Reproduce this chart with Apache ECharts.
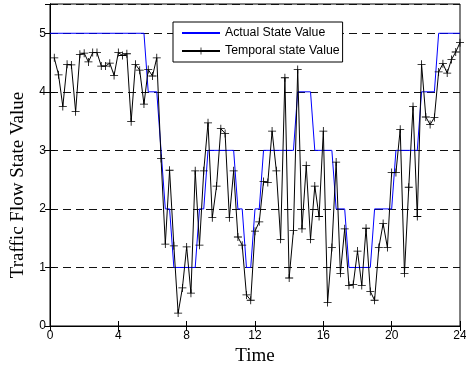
<!DOCTYPE html>
<html>
<head>
<meta charset="utf-8">
<script src="https://cdn.jsdelivr.net/npm/echarts@6/dist/echarts.min.js"></script>
<style>
html,body{margin:0;padding:0;background:#fff;}
#chart{width:466px;height:368px;}
</style>
</head>
<body>
<div id="chart"></div>
<script>
// Actual state value (step corners)
const actualTimes = [0,5.5,5.75,6.25,6.5,6.75,7.0,7.25,8.5,8.75,9.0,9.25,10.75,11.0,11.25,11.5,11.75,12.0,12.25,12.5,14.25,14.5,15.25,15.5,16.5,16.75,17.25,17.5,18.75,19.0,20.0,20.25,21.5,21.75,22.5,22.75,24];
const actualValues = [5,5,4,4,3,2,2,1,1,2,2,3,3,2,2,1,1,2,2,3,3,4,4,3,3,2,2,1,1,2,2,3,3,4,4,5,5];

// Temporal state value samples
const temporalTimes = [
  0.25,0.5,0.75,1.0,1.25,1.5,1.75,2.0,2.25,2.5,2.75,3.0,3.25,3.5,3.75,4.0,
  4.25,4.5,4.75,5.0,5.25,5.5,5.75,6.0,6.25,6.5,6.75,7.0,7.25,7.5,7.75,8.0,
  8.25,8.5,8.75,9.0,9.25,9.5,9.75,10.0,10.25,10.5,10.75,11.0,11.25,11.5,11.75,12.0,
  12.25,12.5,12.75,13.0,13.25,13.5,13.75,14.0,14.25,14.5,14.75,15.0,15.25,15.5,15.75,16.0,
  16.25,16.5,16.75,17.0,17.25,17.5,17.75,18.0,18.25,18.5,18.75,19.0,19.25,19.5,19.75,20.0,
  20.25,20.5,20.75,21.0,21.25,21.5,21.75,22.0,22.25,22.5,22.75,23.0,23.25,23.5,23.75,24.0
];
const temporalValues = [
  4.58,4.29,3.75,4.47,4.46,3.66,4.64,4.66,4.51,4.67,4.67,4.44,4.44,4.49,4.28,4.67,
  4.62,4.65,3.49,4.47,4.37,3.79,4.38,4.27,4.58,2.86,1.40,2.66,1.37,0.22,0.65,1.35,
  0.56,2.65,1.38,2.65,3.47,1.85,2.39,3.37,3.29,1.85,2.65,1.52,1.38,0.53,0.44,1.62,
  1.78,2.47,2.45,3.33,2.65,1.48,4.24,0.82,1.63,4.38,1.66,2.74,1.48,2.39,1.87,3.33,
  0.40,1.34,2.80,0.90,1.66,0.69,0.71,1.28,0.69,1.67,0.59,0.44,1.34,1.75,1.34,2.62,
  2.62,3.36,0.90,2.37,3.75,1.87,4.47,3.57,3.44,3.56,4.34,4.48,4.32,4.55,4.68,4.84
];

const xTicks = {min:0, max:24, interval:4};
const yTicks = {min:0, max:5.5, interval:1};

const plusPath = 'path://M4.5,0 H5.5 V4.5 H10 V5.5 H5.5 V10 H4.5 V5.5 H0 V4.5 H4.5 Z';
const labelFont = 'Liberation Sans, Arial, sans-serif';
const titleFont = 'Liberation Serif, Times New Roman, serif';

const chart = echarts.init(document.getElementById('chart'), null, {renderer:'canvas'});
chart.setOption({
  animation:false,
  backgroundColor:'#fff',
  grid:{left:50, right:6, top:4, bottom:42, show:true, borderColor:'#000', borderWidth:1,
        backgroundColor:'#fff', containLabel:false, outerBoundsMode:'none'},
  legend:{
    orient:'vertical', left:173, top:22,
    borderColor:'#000', borderWidth:1, backgroundColor:'#fff',
    padding:[5,3,5,8], itemGap:6, itemWidth:38, itemHeight:9,
    textStyle:{fontFamily:labelFont, fontSize:12.3, color:'#000'},
    data:['Actual State Value','Temporal state Value']
  },
  xAxis:[{
    type:'value', min:xTicks.min, max:xTicks.max, interval:xTicks.interval,
    name:'Time', nameLocation:'middle', nameGap:21,
    nameTextStyle:{fontFamily:titleFont, fontSize:19, color:'#000'},
    axisLine:{show:true, lineStyle:{color:'#000', width:1}},
    axisTick:{show:true, inside:true, length:5, lineStyle:{color:'#000'}},
    axisLabel:{fontFamily:labelFont, fontSize:12, color:'#000', margin:4},
    splitLine:{show:false}
  },{
    type:'value', position:'top', min:xTicks.min, max:xTicks.max, interval:xTicks.interval,
    axisLine:{show:true, lineStyle:{color:'#000', width:1}},
    axisTick:{show:true, inside:true, length:5, lineStyle:{color:'#000'}},
    axisLabel:{show:false}, splitLine:{show:false}
  }],
  yAxis:[{
    type:'value', min:yTicks.min, max:yTicks.max, interval:yTicks.interval,
    name:'Traffic Flow State Value', nameLocation:'middle', nameGap:22,
    nameTextStyle:{fontFamily:titleFont, fontSize:19, color:'#000', padding:[0,40,0,0]},
    axisLine:{show:true, lineStyle:{color:'#000', width:1}},
    axisTick:{show:true, inside:true, length:5, lineStyle:{color:'#000'}},
    axisLabel:{fontFamily:labelFont, fontSize:12, color:'#000', margin:4, showMaxLabel:false},
    splitLine:{show:true, lineStyle:{color:'#111', width:1, type:[8,5]}}
  },{
    type:'value', position:'right', min:yTicks.min, max:yTicks.max, interval:yTicks.interval,
    axisLine:{show:true, lineStyle:{color:'#000', width:1}},
    axisTick:{show:true, inside:true, length:5, lineStyle:{color:'#000'}},
    axisLabel:{show:false}, splitLine:{show:false}
  }],
  series:[{
    name:'Actual State Value', type:'line',
    data: actualTimes.map((t,i)=>[t, actualValues[i]]),
    showSymbol:false, symbol:'rect',
    lineStyle:{color:'#0000ff', width:1},
    itemStyle:{color:'rgba(0,0,0,0)'},
    z:3
  },{
    name:'Temporal state Value', type:'line',
    data: temporalTimes.map((t,i)=>[t, temporalValues[i]]),
    symbol:plusPath, symbolSize:8, showAllSymbol:true,
    lineStyle:{color:'#000', width:1},
    itemStyle:{color:'#000'},
    z:4
  }]
});
</script>
</body>
</html>
